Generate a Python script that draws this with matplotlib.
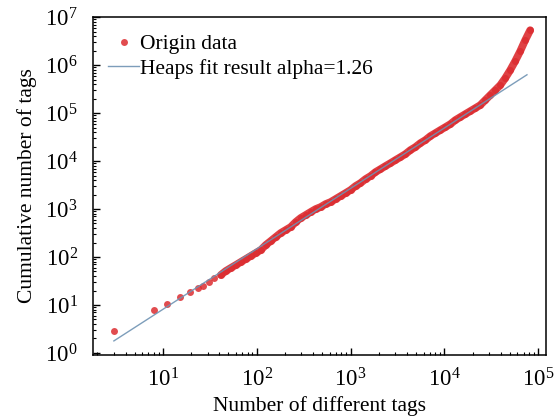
import numpy as np
import matplotlib.pyplot as plt
from matplotlib.ticker import LogLocator

plt.rcParams['font.family'] = 'Liberation Serif'
plt.rcParams['mathtext.fontset'] = 'stix'

# datos (log10 de cada eje)
log_tags = [0.479, 0.904, 1.043, 1.180, 1.287, 1.372, 1.426, 1.489, 1.543,
            1.617, 1.670, 1.723, 1.777, 1.830, 1.883, 1.936, 1.989, 2.043,
            2.096, 2.149, 2.202, 2.255, 2.309, 2.362, 2.415, 2.468, 2.521,
            2.574, 2.628, 2.681, 2.734, 2.787, 2.840, 2.894, 2.947, 3.000,
            3.053, 3.106, 3.160, 3.213, 3.266, 3.319, 3.372, 3.426, 3.479,
            3.532, 3.585, 3.638, 3.691, 3.745, 3.798, 3.851, 3.904, 3.957,
            4.011, 4.064, 4.117, 4.170, 4.223, 4.277, 4.330, 4.383, 4.436,
            4.489, 4.543, 4.596, 4.649, 4.702, 4.755, 4.809, 4.862, 4.915]
log_cumulative = [0.458, 0.885, 1.020, 1.167, 1.270, 1.354, 1.396, 1.479, 1.563,
                  1.625, 1.708, 1.771, 1.833, 1.896, 1.958, 2.021, 2.083, 2.146,
                  2.250, 2.333, 2.417, 2.500, 2.563, 2.625, 2.729, 2.813, 2.875,
                  2.938, 3.000, 3.042, 3.104, 3.146, 3.208, 3.271, 3.333, 3.396,
                  3.479, 3.542, 3.625, 3.688, 3.771, 3.833, 3.896, 3.958, 4.021,
                  4.083, 4.146, 4.229, 4.292, 4.375, 4.438, 4.521, 4.583, 4.646,
                  4.708, 4.771, 4.854, 4.917, 4.979, 5.042, 5.104, 5.167, 5.271,
                  5.375, 5.479, 5.583, 5.729, 5.896, 6.083, 6.292, 6.521, 6.729]
n_sparse = 9  # primeros puntos sueltos, el resto es una banda densa

# ajuste de Heaps
alpha = 1.26
coef = 0.446
fit_x = np.array([3.0, 76000.0])

tags = 10 ** np.array(log_tags)
cumulative = 10 ** np.array(log_cumulative)

red = '#dc2c30'

fig = plt.figure(figsize=(5.54, 4.19), dpi=100)
ax = fig.add_axes([0.168, 0.153, 0.818, 0.806])

# banda densa de puntos
ax.plot(tags[n_sparse:], cumulative[n_sparse:], '-', color=red, linewidth=5.5,
        solid_capstyle='round', solid_joinstyle='round', alpha=0.9)
ax.plot(tags, cumulative, 'o', color=red, markersize=5.0, markeredgewidth=0,
        alpha=0.85, label='Origin data')
ax.plot(fit_x, coef * fit_x ** alpha, '-', color='#6f93b3', linewidth=1.0,
        alpha=0.9, label='Heaps fit result alpha=1.26')

ax.set_xscale('log')
ax.set_yscale('log')
ax.set_xlim(1.8, 1.22e5)
ax.set_ylim(0.91, 1e7)
ax.xaxis.set_major_locator(LogLocator(base=10, numticks=20))
ax.yaxis.set_major_locator(LogLocator(base=10, numticks=20))
ax.xaxis.set_minor_locator(LogLocator(base=10, subs=np.arange(2, 10), numticks=20))
ax.yaxis.set_minor_locator(LogLocator(base=10, subs=np.arange(2, 10), numticks=20))

ax.tick_params(which='both', direction='in', top=False, right=False, labelsize=16.5)
ax.tick_params(axis='y', which='major', pad=11)
ax.tick_params(axis='x', which='major', pad=10)
ax.tick_params(which='major', length=5, width=1)
ax.tick_params(which='minor', length=2.5, width=0.8)
for s in ax.spines.values():
    s.set_linewidth(1.1)

ax.set_xlabel('Number of different tags', fontsize=15.5, labelpad=3)
ax.set_ylabel('Cumulative number of tags', fontsize=15.5, labelpad=6)

ax.legend(loc='upper left', frameon=False, fontsize=15.5, handlelength=1.45,
          handletextpad=0.05, labelspacing=0.2, borderaxespad=0.4,
          bbox_to_anchor=(-0.005, 1.0))

plt.savefig('out.png', dpi=100)
